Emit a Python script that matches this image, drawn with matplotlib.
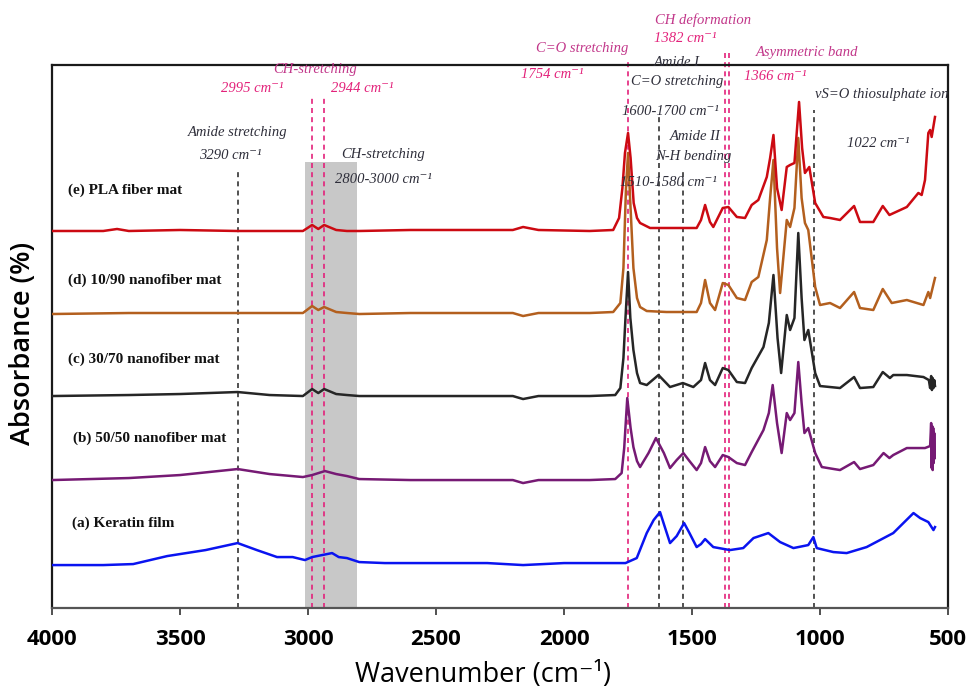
import matplotlib
matplotlib.use("Agg")
import matplotlib.pyplot as plt

# ── Spectra (wavenumber cm-1, absorbance a.u., already offset per sample) ──
keratin_wn = [4000, 3800, 3683, 3550, 3400, 3275, 3200, 3121, 3060, 3012, 2984, 2945,
              2906, 2880, 2848, 2800, 2700, 2500, 2300, 2160, 2000, 1850, 1760, 1716,
              1677, 1650, 1625, 1605, 1586, 1560, 1531, 1510, 1482, 1465, 1449, 1417,
              1352, 1300, 1260, 1202, 1156, 1104, 1046, 1026, 1013, 948, 896, 818, 714,
              635, 609, 577, 557, 551]
keratin_abs = [0.43, 0.43, 0.44, 0.52, 0.58, 0.65, 0.58, 0.51, 0.51, 0.48, 0.51, 0.53,
               0.55, 0.51, 0.50, 0.46, 0.45, 0.45, 0.45, 0.43, 0.45, 0.45, 0.45, 0.50,
               0.75, 0.88, 0.96, 0.80, 0.65, 0.72, 0.85, 0.75, 0.61, 0.64, 0.69, 0.61,
               0.58, 0.60, 0.70, 0.75, 0.66, 0.60, 0.63, 0.71, 0.60, 0.56, 0.55, 0.61,
               0.75, 0.95, 0.90, 0.86, 0.78, 0.81]

blend5050_wn = [4000, 3700, 3500, 3275, 3150, 3020, 2984, 2934, 2890, 2848, 2800, 2600,
                2400, 2200, 2160, 2100, 1900, 1800, 1775, 1765, 1753, 1740, 1729, 1715,
                1703, 1670, 1641, 1610, 1586, 1560, 1534, 1510, 1482, 1465, 1449, 1430,
                1410, 1380, 1358, 1325, 1293, 1267, 1221, 1200, 1185, 1168, 1150, 1130,
                1117, 1100, 1085, 1072, 1061, 1046, 1019, 993, 922, 867, 844, 792, 752,
                729, 714, 661, 590, 570, 566, 564, 562, 560, 558, 556, 554, 552]
blend5050_abs = [1.28, 1.30, 1.33, 1.39, 1.34, 1.31, 1.33, 1.37, 1.34, 1.32, 1.29, 1.28,
                 1.28, 1.28, 1.25, 1.28, 1.28, 1.29, 1.35, 1.60, 2.10, 1.80, 1.61, 1.47,
                 1.41, 1.55, 1.70, 1.55, 1.40, 1.48, 1.55, 1.47, 1.38, 1.45, 1.61, 1.47,
                 1.41, 1.53, 1.51, 1.45, 1.43, 1.56, 1.78, 1.95, 2.23, 1.85, 1.55, 1.95,
                 1.88, 1.95, 2.46, 2.05, 1.75, 1.80, 1.55, 1.41, 1.38, 1.46, 1.39, 1.43,
                 1.55, 1.50, 1.53, 1.60, 1.60, 1.62, 1.85, 1.40, 1.82, 1.38, 1.80, 1.45,
                 1.75, 1.50]

blend3070_wn = [4000, 3700, 3500, 3275, 3150, 3020, 2984, 2960, 2937, 2890, 2848, 2800,
                2600, 2400, 2200, 2160, 2100, 1900, 1800, 1780, 1768, 1760, 1750, 1741,
                1729, 1715, 1703, 1677, 1631, 1586, 1536, 1495, 1465, 1449, 1430, 1410,
                1380, 1358, 1325, 1293, 1267, 1221, 1200, 1182, 1166, 1152, 1130, 1117,
                1100, 1085, 1072, 1061, 1046, 1019, 1000, 961, 922, 867, 844, 792, 755,
                727, 714, 661, 596, 575, 570, 566, 563, 560, 557, 554, 551]
blend3070_abs = [2.12, 2.13, 2.14, 2.16, 2.13, 2.12, 2.19, 2.15, 2.19, 2.14, 2.13, 2.12,
                 2.12, 2.12, 2.12, 2.09, 2.12, 2.12, 2.13, 2.20, 2.50, 2.90, 3.36, 2.90,
                 2.58, 2.35, 2.25, 2.23, 2.33, 2.21, 2.25, 2.21, 2.28, 2.45, 2.28, 2.23,
                 2.40, 2.38, 2.26, 2.25, 2.40, 2.61, 2.85, 3.33, 2.70, 2.35, 2.93, 2.78,
                 2.90, 3.75, 3.10, 2.68, 2.78, 2.35, 2.22, 2.21, 2.20, 2.31, 2.20, 2.21,
                 2.36, 2.30, 2.33, 2.33, 2.31, 2.28, 2.20, 2.32, 2.18, 2.30, 2.20, 2.28,
                 2.22]

blend1090_wn = [4000, 3700, 3500, 3275, 3100, 3020, 2984, 2960, 2937, 2890, 2848, 2800,
                2600, 2400, 2200, 2160, 2100, 1900, 1808, 1780, 1768, 1758, 1750, 1742,
                1729, 1715, 1703, 1677, 1600, 1482, 1465, 1449, 1430, 1410, 1380, 1358,
                1325, 1293, 1267, 1241, 1208, 1195, 1182, 1168, 1156, 1130, 1117, 1100,
                1085, 1072, 1059, 1046, 1019, 1000, 961, 922, 867, 844, 792, 755, 720,
                661, 596, 577, 570, 551]
blend1090_abs = [2.94, 2.95, 2.95, 2.95, 2.95, 2.95, 3.02, 2.98, 3.01, 2.96, 2.95, 2.94,
                 2.95, 2.95, 2.95, 2.92, 2.95, 2.95, 2.96, 3.05, 3.40, 4.20, 4.55, 4.10,
                 3.40, 3.10, 3.01, 2.97, 2.96, 2.96, 3.05, 3.28, 3.05, 2.98, 3.25, 3.23,
                 3.10, 3.08, 3.26, 3.31, 3.68, 4.10, 4.48, 3.60, 3.15, 3.88, 3.81, 4.00,
                 4.70, 4.10, 3.85, 3.78, 3.21, 3.03, 3.05, 3.00, 3.16, 3.00, 2.98, 3.19,
                 3.05, 3.08, 3.03, 3.16, 3.10, 3.30]

pla_wn = [4000, 3800, 3746, 3700, 3500, 3275, 3100, 3020, 2984, 2960, 2937, 2890, 2848,
          2800, 2600, 2400, 2200, 2160, 2100, 1900, 1808, 1785, 1772, 1762, 1750, 1740,
          1728, 1715, 1703, 1664, 1482, 1465, 1449, 1430, 1417, 1380, 1358, 1325, 1293,
          1267, 1241, 1208, 1195, 1182, 1168, 1150, 1130, 1117, 1100, 1082, 1070, 1059,
          1042, 1019, 987, 961, 922, 867, 844, 792, 755, 729, 661, 616, 603, 590, 577,
          570, 564, 551]
pla_abs = [3.77, 3.77, 3.79, 3.77, 3.78, 3.77, 3.77, 3.77, 3.83, 3.79, 3.83, 3.78, 3.77,
           3.77, 3.78, 3.78, 3.78, 3.81, 3.78, 3.77, 3.78, 3.90, 4.20, 4.55, 4.75, 4.50,
           4.05, 3.90, 3.85, 3.80, 3.80, 3.88, 4.03, 3.86, 3.81, 4.00, 4.01, 3.91, 3.90,
           4.03, 4.08, 4.31, 4.50, 4.73, 4.20, 3.98, 4.41, 4.43, 4.45, 5.06, 4.60, 4.35,
           4.41, 4.05, 3.91, 3.90, 3.88, 4.02, 3.86, 3.86, 4.02, 3.93, 4.01, 4.15, 4.13,
           4.28, 4.75, 4.78, 4.71, 4.91]

sample_labels = ["(a) Keratin film", "(b) 50/50 nanofiber mat", "(c) 30/70 nanofiber mat",
                 "(d) 10/90 nanofiber mat", "(e) PLA fiber mat"]

# band assignment guide lines (cm-1)
black_guides = [3275, 1629, 1535, 1023]
pink_guides = [2984, 2937, 1750, 1371, 1354]
ch_band = (2810, 3010)

x_ticks = [4000, 3500, 3000, 2500, 2000, 1500, 1000, 500]

# ── styling ──
serif = ["Liberation Serif", "DejaVu Serif"]
sans = ["Open Sans", "DejaVu Sans"]
DARK = "#2e2e3a"
PINK_HEAD = "#c2378a"
PINK_NUM = "#e3217a"

spectra = [
    (keratin_wn, keratin_abs, "#0a14f0"),
    (blend5050_wn, blend5050_abs, "#761a74"),
    (blend3070_wn, blend3070_abs, "#262626"),
    (blend1090_wn, blend1090_abs, "#b35f1e"),
    (pla_wn, pla_abs, "#cc0a12"),
]

fig = plt.figure(figsize=(9.67, 6.91), dpi=100)
ax = fig.add_axes([0.0538, 0.120, 0.9266, 0.786])

ax.axvspan(*ch_band, ymin=0, ymax=0.821, color="#c8c8c8", zorder=0, lw=0)

guide_tops = {3275: 4.36, 1629: 4.91, 1535: 4.36, 1023: 4.98,
              2984: 5.11, 2937: 5.11, 1750: 5.50, 1371: 5.55, 1354: 5.55}
for w in black_guides:
    ax.plot([w, w], [0, guide_tops[w]], color="#333333", ls=(0, (3, 2.5)),
            lw=1.2, zorder=1, clip_on=False)
for w in pink_guides:
    ax.plot([w, w], [0, guide_tops[w]], color=PINK_NUM, ls=(0, (3, 2.5)),
            lw=1.2, zorder=1, clip_on=False)

for wn, ab, col in spectra:
    ax.plot(wn, ab, color=col, lw=1.8, zorder=3, solid_joinstyle="round")

# sample names
label_pos = [(3922, 0.85), (3918, 1.70), (3937, 2.49), (3937, 3.28), (3937, 4.18)]
for text, (x, y) in zip(sample_labels, label_pos):
    ax.text(x, y, text, family=serif, fontweight="bold", fontsize=11,
            ha="left", va="center", color="#111111")

# band annotations: (text, wavenumber, y, color)
annotations = [
    ("Amide stretching", 3277, 4.75, DARK),
    ("3290 cm⁻¹", 3305, 4.52, DARK),
    ("CH-stretching", 2973, 5.38, PINK_HEAD),
    ("2995 cm⁻¹", 3219, 5.19, PINK_NUM),
    ("2944 cm⁻¹", 2789, 5.19, PINK_NUM),
    ("CH-stretching", 2707, 4.53, DARK),
    ("2800-3000 cm⁻¹", 2707, 4.28, DARK),
    ("C=O stretching", 1930, 5.59, PINK_HEAD),
    ("1754 cm⁻¹", 2047, 5.33, PINK_NUM),
    ("CH deformation", 1457, 5.88, PINK_HEAD),
    ("1382 cm⁻¹", 1527, 5.69, PINK_NUM),
    ("Amide I", 1559, 5.45, DARK),
    ("C=O stretching", 1559, 5.26, DARK),
    ("1600-1700 cm⁻¹", 1586, 4.96, DARK),
    ("Amide II", 1488, 4.71, DARK),
    ("N-H bending", 1496, 4.51, DARK),
    ("1510-1580 cm⁻¹", 1594, 4.25, DARK),
    ("Asymmetric band", 1051, 5.55, PINK_HEAD),
    ("1366 cm⁻¹", 1176, 5.31, PINK_NUM),
    ("νS=O thiosulphate ion", 758, 5.13, DARK),
    ("1022 cm⁻¹", 774, 4.64, DARK),
]
for text, x, y, col in annotations:
    ax.text(x, y, text, family=serif, style="italic", fontsize=10.5,
            ha="center", va="center", color=col, zorder=4, clip_on=False)

ax.set_xlim(4000, 500)
ax.set_ylim(0, 5.43)
ax.set_xticks(x_ticks)
ax.set_xticklabels([str(t) for t in x_ticks], family=sans, fontweight="bold", fontsize=16)
ax.set_yticks([])
ax.tick_params(axis="x", direction="out", length=5, width=1.2, pad=10, color="#333333")

ax.set_xlabel("Wavenumber (cm⁻¹)", family=sans, fontsize=19.5)
ax.set_ylabel("Absorbance (%)", family=sans, fontsize=19.5, fontweight="semibold")
ax.xaxis.set_label_coords(0.481, -0.098)
ax.yaxis.set_label_coords(-0.017, 0.488)

for side in ["top", "bottom", "left", "right"]:
    ax.spines[side].set_linewidth(1.6)
    ax.spines[side].set_color("#1a1a1a")
ax.spines["bottom"].set_color("#555555")

fig.savefig("out.png", dpi=100, facecolor="white")
plt.close(fig)
